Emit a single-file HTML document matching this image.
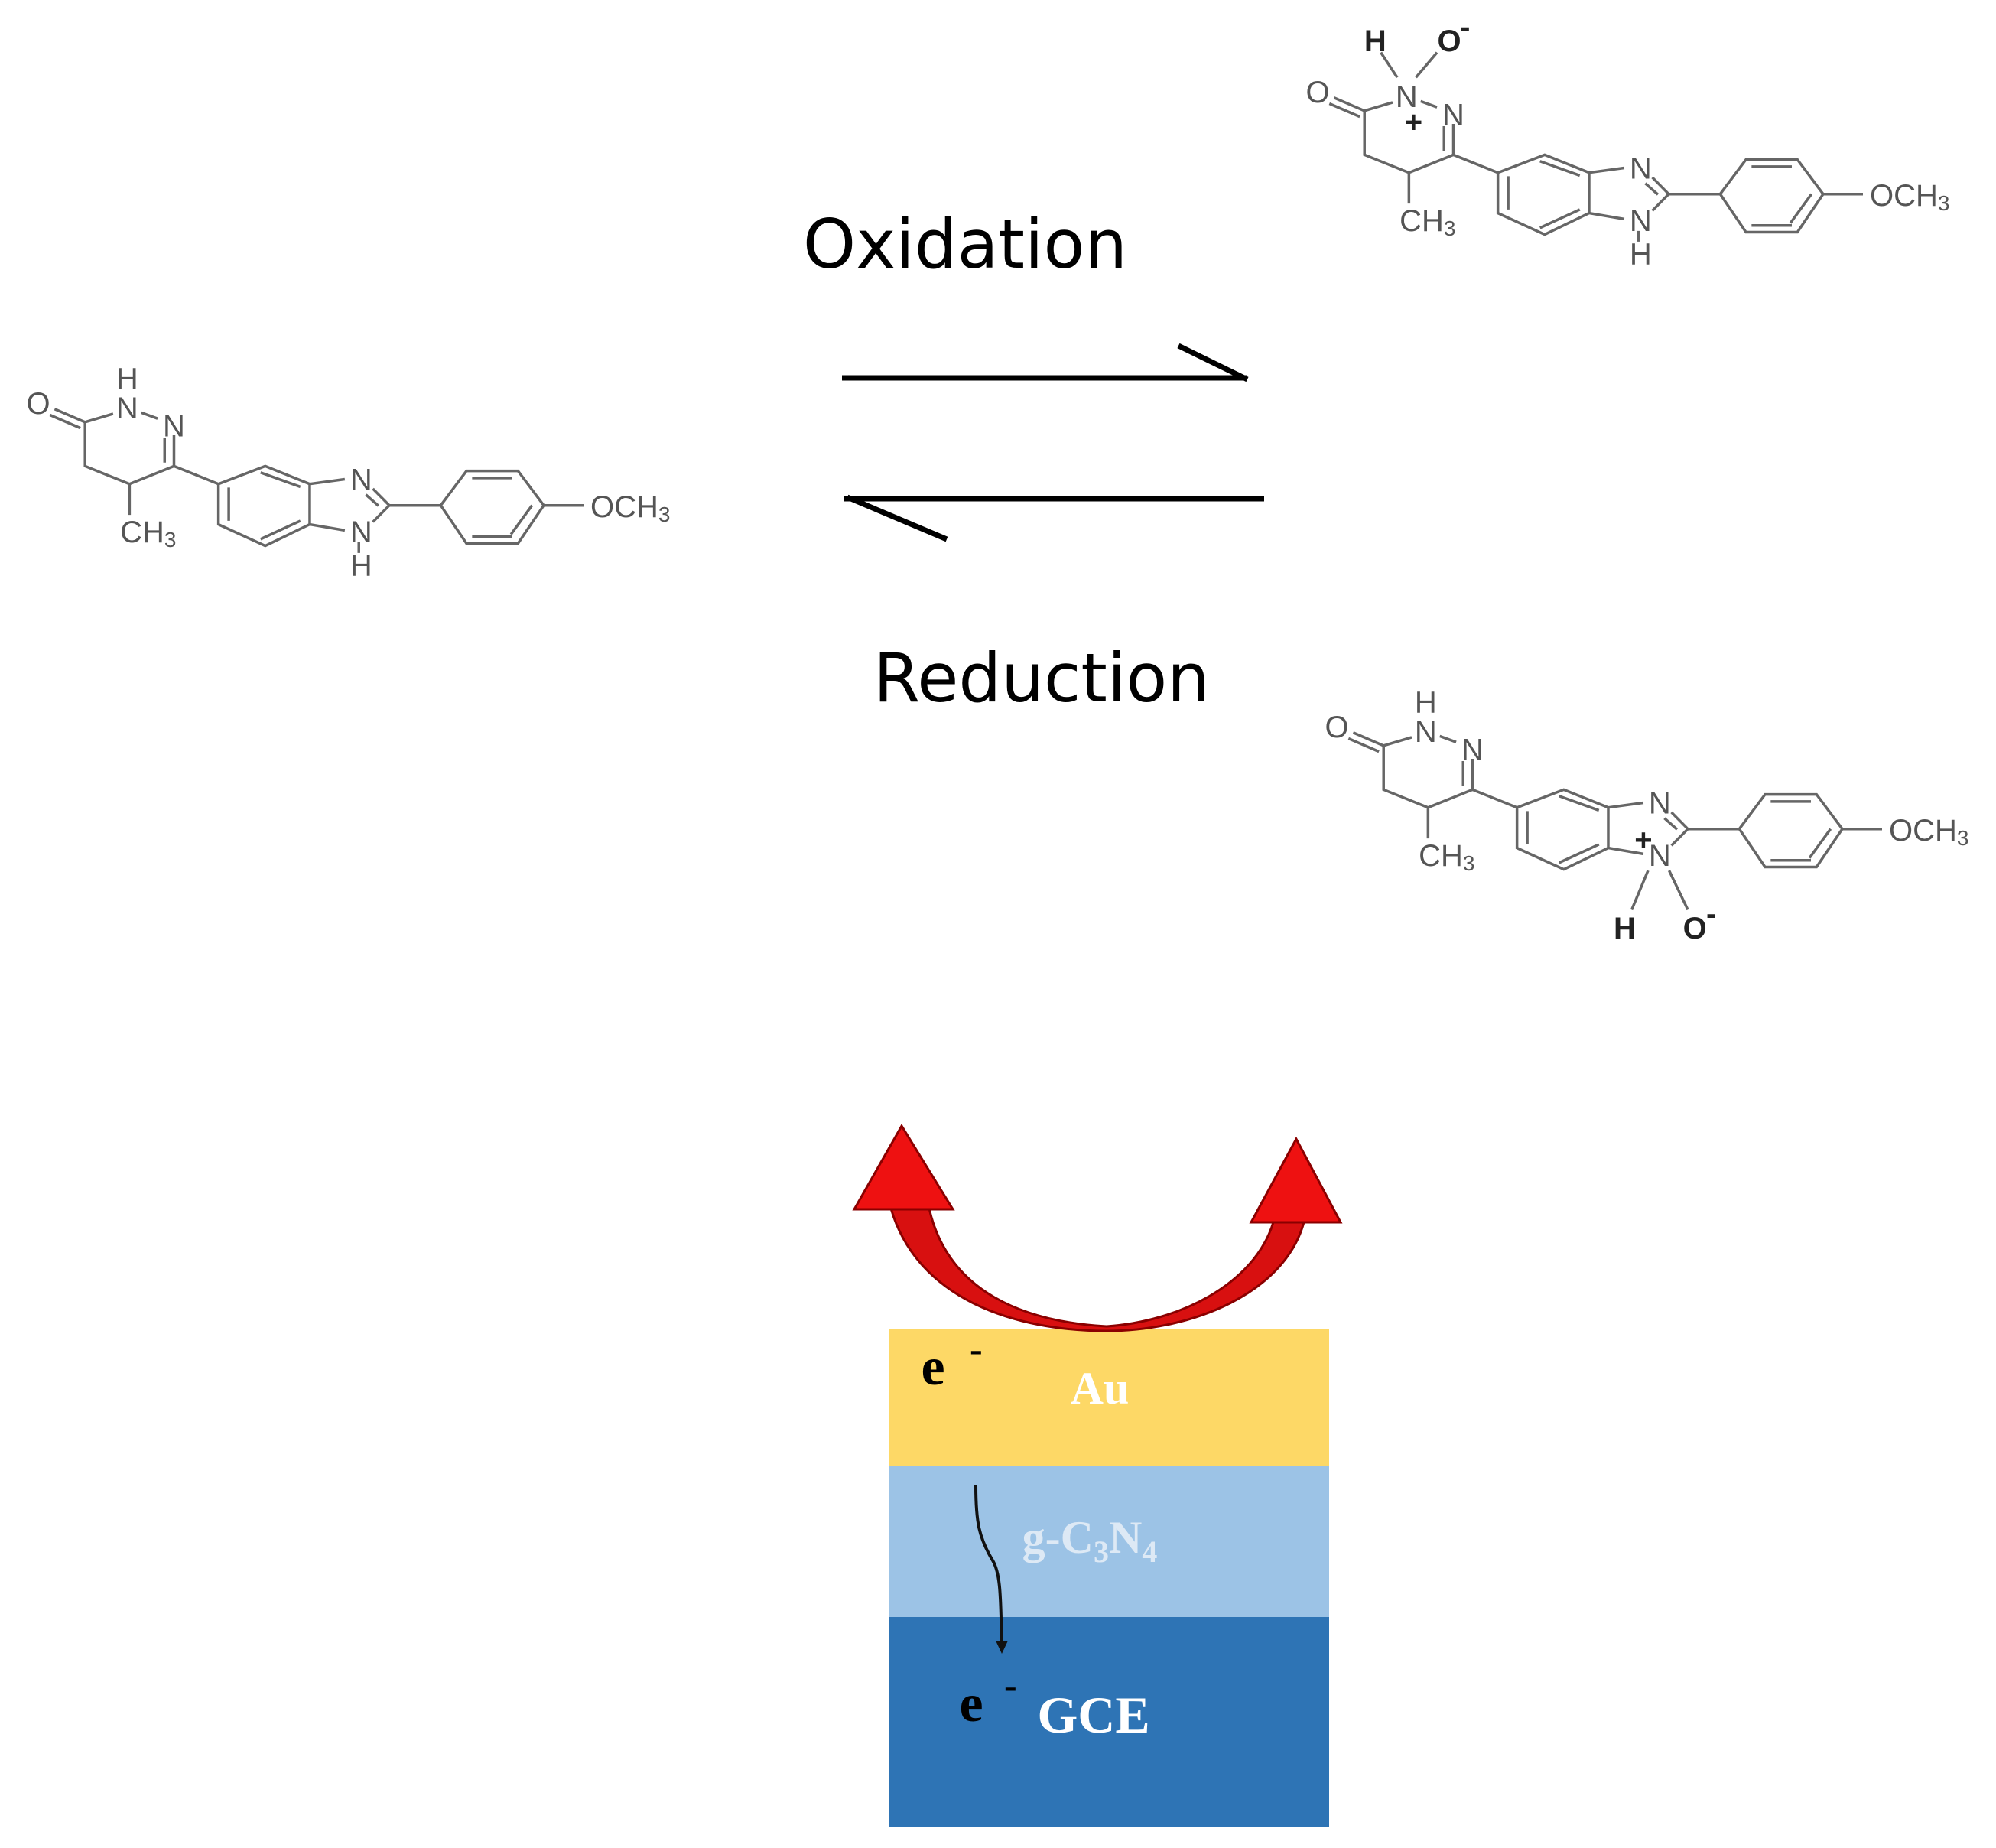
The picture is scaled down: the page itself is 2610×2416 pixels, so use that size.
<!DOCTYPE html>
<html><head><meta charset="utf-8"><style>
html,body{margin:0;padding:0;background:#fff}
svg{display:block}
.b{fill:none;stroke:#666;stroke-width:3.5}
.t{font-family:"Liberation Sans",sans-serif;font-size:40px;fill:#555;text-anchor:middle}
.k{font-family:"Liberation Sans",sans-serif;font-size:40px;fill:#222;text-anchor:middle;font-weight:bold}
</style></head><body>
<svg width="2610" height="2416" viewBox="0 0 2610 2416" xmlns="http://www.w3.org/2000/svg">
<!-- left molecule -->
<g transform="translate(-2,415) scale(0.612,0.311)">
<path class="b" vector-effect="non-scaling-stroke" d="M120,385 L185,440 M110,410 L175,465 M185,440 L245,405 M305,400 L340,425 M375,495 L375,625 M355,505 L355,610 M375,625 L280,700 L185,625 L185,440 M280,700 L280,830 M375,625 L470,700 M470,700 L570,625 L665,700 L665,870 L570,960 L470,870 Z M560,652 L645,712 M645,855 L560,932 M492,715 L492,855 M665,700 L740,680 M800,720 L835,790 L800,860 M665,870 L740,895 M785,745 L812,792 M770,945 L770,990 M835,790 L945,790 M945,790 L1000,645 L1110,645 L1165,790 L1110,950 L1000,950 Z M1012,675 L1098,675 M1012,922 L1098,922 M1140,790 L1095,912 M1165,790 L1250,790"/>
<text class="t" transform="translate(85,405) scale(1.634,3.215)">O</text>
<text class="t" transform="translate(275,300) scale(1.634,3.215)">H</text>
<text class="t" transform="translate(275,425) scale(1.634,3.215)">N</text>
<text class="t" transform="translate(375,500) scale(1.634,3.215)">N</text>
<text class="t" transform="translate(320,945) scale(1.634,3.215)">CH<tspan font-size="28" dy="6">3</tspan></text>
<text class="t" transform="translate(775,725) scale(1.634,3.215)">N</text>
<text class="t" transform="translate(775,945) scale(1.634,3.215)">N</text>
<text class="t" transform="translate(775,1085) scale(1.634,3.215)">H</text>
<text class="t" transform="translate(1350,840) scale(1.634,3.215)">OCH<tspan font-size="28" dy="6">3</tspan></text>
</g>
<!-- top right molecule -->
<g transform="translate(1671,8) scale(0.612,0.311)">
<path class="b" vector-effect="non-scaling-stroke" d="M120,385 L185,440 M110,410 L175,465 M185,440 L245,405 M305,400 L340,425 M375,495 L375,625 M355,505 L355,610 M375,625 L280,700 L185,625 L185,440 M280,700 L280,830 M375,625 L470,700 M470,700 L570,625 L665,700 L665,870 L570,960 L470,870 Z M560,652 L645,712 M645,855 L560,932 M492,715 L492,855 M665,700 L740,680 M800,720 L835,790 L800,860 M665,870 L740,895 M785,745 L812,792 M770,945 L770,990 M835,790 L945,790 M945,790 L1000,645 L1110,645 L1165,790 L1110,950 L1000,950 Z M1012,675 L1098,675 M1012,922 L1098,922 M1140,790 L1095,912 M1165,790 L1250,790 M255,300 L220,195 M295,300 L340,195"/>
<text class="t" transform="translate(85,405) scale(1.634,3.215)">O</text>
<text class="t" transform="translate(275,425) scale(1.634,3.215)">N</text>
<text class="t" transform="translate(375,500) scale(1.634,3.215)">N</text>
<text class="k" transform="translate(208,190) scale(1.634,3.215)">H</text>
<text class="k" transform="translate(366,190) scale(1.634,3.215)">O</text>
<text class="k" transform="translate(400,130) scale(1.634,3.215)" font-size="30">-</text>
<text class="k" transform="translate(290,530) scale(1.634,3.215)">+</text>
<text class="t" transform="translate(320,945) scale(1.634,3.215)">CH<tspan font-size="28" dy="6">3</tspan></text>
<text class="t" transform="translate(775,725) scale(1.634,3.215)">N</text>
<text class="t" transform="translate(775,945) scale(1.634,3.215)">N</text>
<text class="t" transform="translate(775,1085) scale(1.634,3.215)">H</text>
<text class="t" transform="translate(1350,840) scale(1.634,3.215)">OCH<tspan font-size="28" dy="6">3</tspan></text>
</g>
<!-- bottom right molecule -->
<g transform="translate(1696,838) scale(0.612,0.311)">
<path class="b" vector-effect="non-scaling-stroke" d="M120,385 L185,440 M110,410 L175,465 M185,440 L245,405 M305,400 L340,425 M375,495 L375,625 M355,505 L355,610 M375,625 L280,700 L185,625 L185,440 M280,700 L280,830 M375,625 L470,700 M470,700 L570,625 L665,700 L665,870 L570,960 L470,870 Z M560,652 L645,712 M645,855 L560,932 M492,715 L492,855 M665,700 L740,680 M800,720 L835,790 L800,860 M665,870 L740,895 M785,745 L812,792 M835,790 L945,790 M945,790 L1000,645 L1110,645 L1165,790 L1110,950 L1000,950 Z M1012,675 L1098,675 M1012,922 L1098,922 M1140,790 L1095,912 M1165,790 L1250,790 M750,965 L715,1130 M795,965 L835,1130"/>
<text class="t" transform="translate(85,405) scale(1.634,3.215)">O</text>
<text class="t" transform="translate(275,300) scale(1.634,3.215)">H</text>
<text class="t" transform="translate(275,425) scale(1.634,3.215)">N</text>
<text class="t" transform="translate(375,500) scale(1.634,3.215)">N</text>
<text class="t" transform="translate(320,945) scale(1.634,3.215)">CH<tspan font-size="28" dy="6">3</tspan></text>
<text class="t" transform="translate(775,725) scale(1.634,3.215)">N</text>
<text class="t" transform="translate(775,945) scale(1.634,3.215)">N</text>
<text class="k" transform="translate(740,880) scale(1.634,3.215)">+</text>
<text class="k" transform="translate(700,1250) scale(1.634,3.215)">H</text>
<text class="k" transform="translate(850,1250) scale(1.634,3.215)">O</text>
<text class="k" transform="translate(885,1190) scale(1.634,3.215)" font-size="30">-</text>
<text class="t" transform="translate(1350,840) scale(1.634,3.215)">OCH<tspan font-size="28" dy="6">3</tspan></text>
</g>
<!-- equilibrium arrows -->
<text x="1262" y="350" font-family="'DejaVu Sans','Liberation Sans',sans-serif" font-size="88" text-anchor="middle" fill="#000">Oxidation</text>
<text x="1362" y="917" font-family="'DejaVu Sans','Liberation Sans',sans-serif" font-size="88" text-anchor="middle" fill="#000">Reduction</text>
<path d="M1101,494 L1631,494 M1541,452 L1631,496" stroke="#000" stroke-width="7" fill="none"/>
<path d="M1104,652 L1653,652 M1108,650 L1238,705" stroke="#000" stroke-width="7" fill="none"/>
<!-- electrode -->
<rect x="1163" y="1737" width="575" height="180" fill="#fdd866"/>
<rect x="1163" y="1917" width="575" height="197" fill="#9cc3e6"/>
<rect x="1163" y="2114" width="575" height="275" fill="#2e74b5"/>
<text x="1438" y="1835" font-family="'Liberation Serif',serif" font-weight="bold" font-size="60" fill="#fff" text-anchor="middle">Au</text>
<text x="1425" y="2030" font-family="'Liberation Serif',serif" font-weight="bold" font-size="60" fill="#dde9f5" text-anchor="middle">g-C<tspan font-size="40" dy="12">3</tspan><tspan dy="-12">N</tspan><tspan font-size="40" dy="12">4</tspan></text>
<text x="1430" y="2265" font-family="'Liberation Serif',serif" font-weight="bold" font-size="68" fill="#fff" text-anchor="middle">GCE</text>
<text x="1220" y="1810" font-family="'Liberation Serif',serif" font-weight="bold" font-size="70" fill="#000" text-anchor="middle">e</text>
<text x="1268" y="1780" font-family="'Liberation Serif',serif" font-weight="bold" font-size="50" fill="#000">-</text>
<text x="1270" y="2250" font-family="'Liberation Serif',serif" font-weight="bold" font-size="70" fill="#000" text-anchor="middle">e</text>
<text x="1313" y="2220" font-family="'Liberation Serif',serif" font-weight="bold" font-size="50" fill="#000">-</text>
<path d="M1276,1942 C1276,1990 1280,2010 1298,2040 C1310,2060 1308,2100 1310,2150" stroke="#111" stroke-width="4" fill="none"/>
<path d="M1302,2145 L1310,2162 L1318,2145 Z" fill="#111"/>
<!-- red arrows -->
<path d="M1165,1580 C1200,1700 1330,1740 1447,1740 C1560,1740 1680,1690 1705,1598 L1665,1598 C1640,1680 1540,1728 1447,1734 C1340,1728 1240,1690 1215,1580 Z" fill="#d81010" stroke="#8a0000" stroke-width="3"/>
<path d="M1179,1472 L1117,1581 L1246,1581 Z" fill="#ee1111" stroke="#8a0000" stroke-width="3"/>
<path d="M1695,1489 L1636,1598 L1753,1598 Z" fill="#ee1111" stroke="#8a0000" stroke-width="3"/>
</svg>
</body></html>
